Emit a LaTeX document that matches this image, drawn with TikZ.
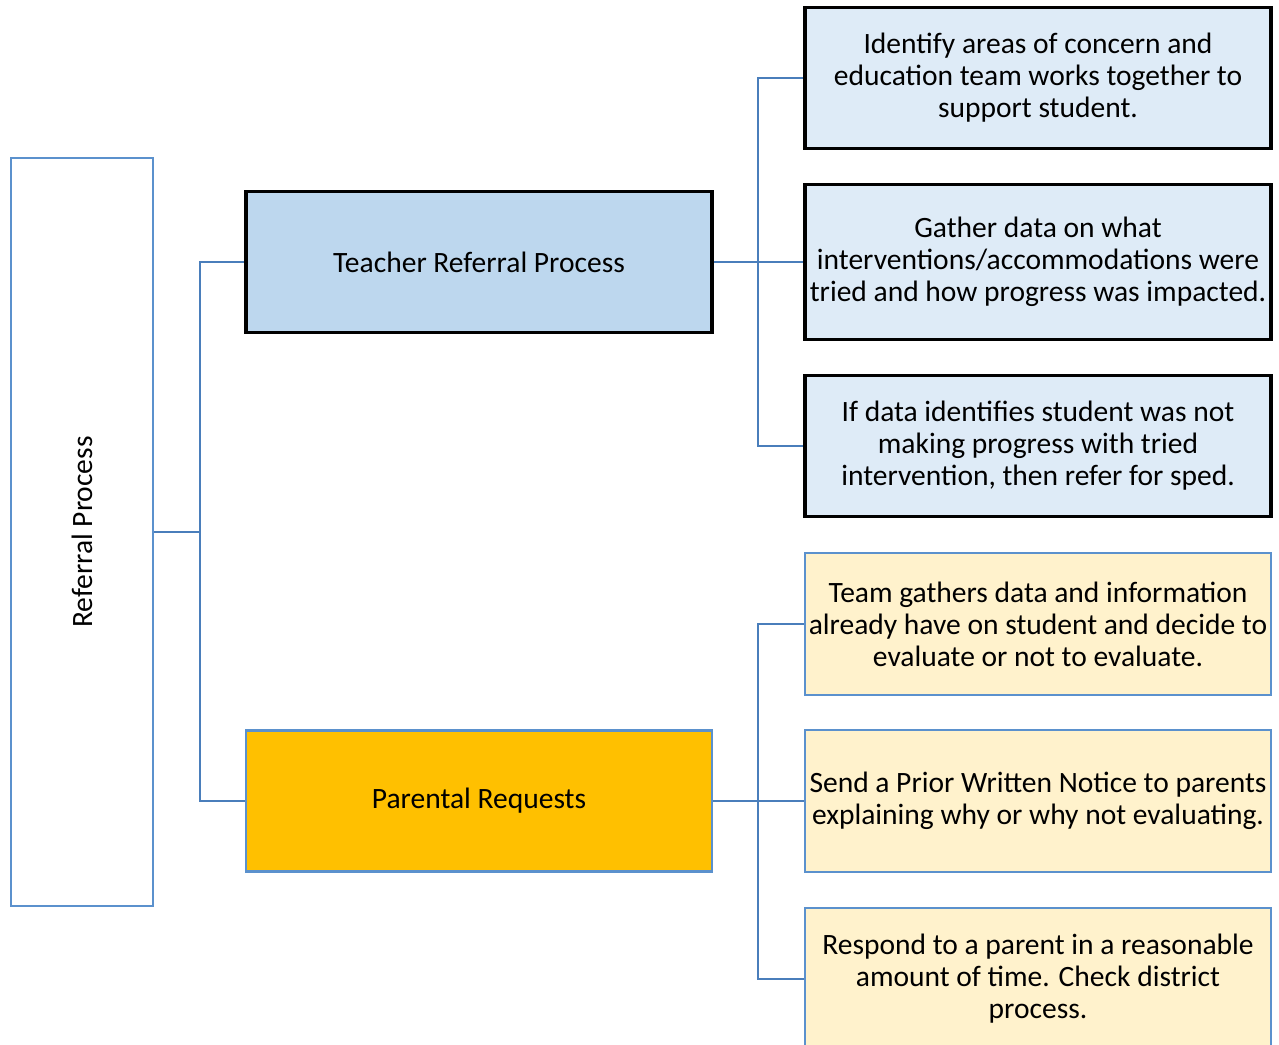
\documentclass[tikz,border=0pt]{standalone}
\usepackage{fontspec}
\setmainfont{Carlito}
\usetikzlibrary{positioning,calc}
\definecolor{lineBlue}{RGB}{74,126,187}
\definecolor{edgeBlue}{RGB}{91,145,205}
\definecolor{teachFill}{RGB}{189,215,238}
\definecolor{stepBlue}{RGB}{222,235,247}
\definecolor{parGold}{RGB}{255,192,0}
\definecolor{stepYellow}{RGB}{255,242,204}

\begin{document}
\begin{tikzpicture}[
    x=0.02cm,y=-0.02cm,
    every node/.style={font=\fontsize{16.8}{18.2}\selectfont,align=center,inner sep=0pt},
    rootbox/.style={draw=edgeBlue,line width=1.4pt,fill=white,minimum width=2.84cm,minimum height=14.96cm},
    teachbox/.style={draw=black,line width=2pt,fill=teachFill,minimum width=9.32cm,minimum height=2.82cm},
    parbox/.style={draw=edgeBlue,line width=1.4pt,fill=parGold,minimum width=9.32cm,minimum height=2.82cm},
    bluestep/.style={draw=black,line width=2pt,fill=stepBlue,minimum width=9.32cm,minimum height=2.82cm},
    yellowstep/.style={draw=edgeBlue,line width=1.4pt,fill=stepYellow,minimum width=9.32cm,minimum height=2.84cm},
    link/.style={draw=lineBlue,line width=1.6pt}
  ]
  \useasboundingbox (0,0) rectangle (1279,1045);
  \clip (0,0) rectangle (1279,1045);

  % left root
  \node[rootbox] (root) at (82,532) {};
  \node[rotate=90] (rootlbl) at (82,532) {Referral Process};

  % middle level
  \node[teachbox] (teach) at (479,262) {Teacher Referral Process};
  \node[parbox] (par) at (479,801) {Parental Requests};

  % teacher steps
  \node[bluestep] (t1) at (1038,78)
    {Identify areas of concern and\\education team works together to\\support student.};
  \node[bluestep,minimum height=3.1cm] (t2) at (1038,262)
    {Gather data on what\\interventions/accommodations were\\tried and how progress was impacted.};
  \node[bluestep] (t3) at (1038,446)
    {If data identifies student was not\\making progress with tried\\intervention, then refer for sped.};

  % parent steps
  \node[yellowstep] (p1) at (1038,624)
    {Team gathers data and information\\already have on student and decide to\\evaluate or not to evaluate.};
  \node[yellowstep] (p2) at (1038,801)
    {Send a Prior Written Notice to parents\\explaining why or why not evaluating.};
  \node[yellowstep] (p3) at (1038,979)
    {Respond to a parent in a reasonable\\amount of time. Check district\\process.};

  % connectors
  \coordinate (j1) at (200,532);
  \coordinate (j2) at (758,262);
  \coordinate (j3) at (758,801);
  \draw[link] (root.east) -- (j1) |- (teach.west);
  \draw[link] (j1) |- (par.west);
  \draw[link] (teach.east) -- (t2.west);
  \draw[link] (j2) |- (t1.west);
  \draw[link] (j2) |- (t3.west);
  \draw[link] (par.east) -- (p2.west);
  \draw[link] (j3) |- (p1.west);
  \draw[link] (j3) |- (p3.west);
\end{tikzpicture}
\end{document}
